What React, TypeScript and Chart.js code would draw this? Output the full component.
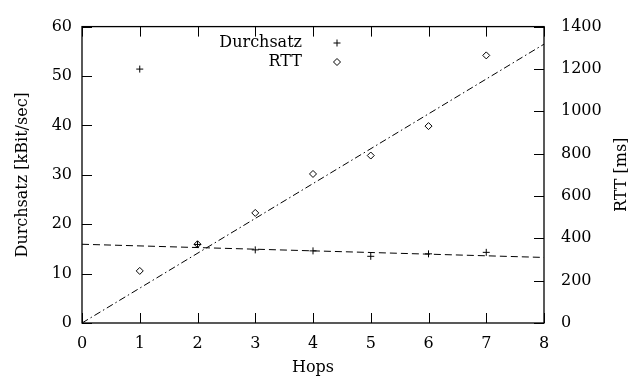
import React, { useEffect, useRef } from "react";
import { Chart, registerables } from "chart.js";

Chart.register(...registerables);

const hops = [1, 2, 3, 4, 5, 6, 7];
const durchsatz = [51.4, 15.9, 14.8, 14.6, 13.5, 14.0, 14.3];
const rtt = [246, 372, 520, 704, 791, 930, 1264];
const fitX = [0, 8];
const durchsatzFit = [15.94, 13.27];
const rttFit = [0, 1317];
const xTicks = [0, 1, 2, 3, 4, 5, 6, 7, 8];
const yTicks = [0, 10, 20, 30, 40, 50, 60];
const y2Ticks = [0, 200, 400, 600, 800, 1000, 1200, 1400];

const FONT = "'DejaVu Serif', serif";
const TL = 10;

const framePlugin = {
  id: "frame",
  afterDraw(chart: any) {
    const { ctx, chartArea } = chart;
    const { left, right, top, bottom } = chartArea;
    const { x, y, y2 } = chart.scales;
    ctx.save();
    ctx.strokeStyle = "#000";
    ctx.lineWidth = 1;
    const line = (x1: number, y1: number, x2: number, y2p: number) => {
      ctx.beginPath();
      ctx.moveTo(x1, y1);
      ctx.lineTo(x2, y2p);
      ctx.stroke();
    };
    xTicks.forEach((v) => {
      const px = Math.round(x.getPixelForValue(v)) + 0.5;
      line(px, bottom, px, bottom - TL);
      line(px, top, px, top + TL);
    });
    yTicks.forEach((v) => {
      const py = Math.round(y.getPixelForValue(v)) + 0.5;
      line(left, py, left + TL, py);
    });
    y2Ticks.forEach((v) => {
      const py = Math.round(y2.getPixelForValue(v)) + 0.5;
      line(right, py, right - TL, py);
    });
    ctx.lineWidth = 1.3;
    ctx.strokeRect(left, top, right - left, bottom - top);

    // legend
    ctx.fillStyle = "#000";
    ctx.font = `16px ${FONT}`;
    ctx.textAlign = "right";
    ctx.textBaseline = "middle";
    const lx = 302;
    const mx = 337;
    const rows = [
      { label: chart.data.datasets[2].label, y: 43, kind: "plus" },
      { label: chart.data.datasets[3].label, y: 62, kind: "diamond" },
    ];
    ctx.lineWidth = 1;
    rows.forEach((r) => {
      ctx.fillText(r.label, lx, r.y);
      const r0 = 3.5;
      if (r.kind === "plus") {
        line(mx - r0, r.y, mx + r0, r.y);
        line(mx, r.y - r0, mx, r.y + r0);
      } else {
        ctx.beginPath();
        ctx.moveTo(mx - r0, r.y);
        ctx.lineTo(mx, r.y - r0);
        ctx.lineTo(mx + r0, r.y);
        ctx.lineTo(mx, r.y + r0);
        ctx.closePath();
        ctx.stroke();
      }
    });

    // axis titles
    ctx.textAlign = "center";
    ctx.fillText("Hops", (left + right) / 2, 368);
    ctx.save();
    ctx.translate(23, (top + bottom) / 2);
    ctx.rotate(-Math.PI / 2);
    ctx.fillText("Durchsatz [kBit/sec]", 0, 0);
    ctx.restore();
    ctx.save();
    ctx.translate(622, (top + bottom) / 2);
    ctx.rotate(-Math.PI / 2);
    ctx.fillText("RTT [ms]", 0, 0);
    ctx.restore();
    ctx.restore();
  },
};

export default function App() {
  const ref = useRef<HTMLCanvasElement>(null);
  useEffect(() => {
    document.body.style.margin = "0";
    const chart = new Chart(ref.current!, {
      type: "scatter",
      data: {
        datasets: [
          {
            label: "Durchsatz Fit",
            type: "line",
            data: fitX.map((v, i) => ({ x: v, y: durchsatzFit[i] })),
            borderColor: "#000",
            borderWidth: 1,
            borderDash: [7, 4],
            pointRadius: 0,
            showLine: true,
            yAxisID: "y",
          } as any,
          {
            label: "RTT Fit",
            type: "line",
            data: fitX.map((v, i) => ({ x: v, y: rttFit[i] })),
            borderColor: "#000",
            borderWidth: 1,
            borderDash: [7, 3, 1.5, 3],
            pointRadius: 0,
            showLine: true,
            yAxisID: "y2",
          } as any,
          {
            label: "Durchsatz",
            data: hops.map((h, i) => ({ x: h, y: durchsatz[i] })),
            pointStyle: "cross",
            pointRadius: 3.5,
            borderColor: "#000",
            backgroundColor: "#000",
            borderWidth: 1,
            yAxisID: "y",
          },
          {
            label: "RTT",
            data: hops.map((h, i) => ({ x: h, y: rtt[i] })),
            pointStyle: "rectRot",
            pointRadius: 3.5,
            borderColor: "#000",
            backgroundColor: "rgba(0,0,0,0)",
            borderWidth: 1,
            yAxisID: "y2",
          },
        ],
      },
      options: {
        responsive: false,
        animation: false,
        layout: { padding: { top: 17, left: 0, right: 0, bottom: 0 } },
        plugins: { legend: { display: false }, tooltip: { enabled: false } },
        scales: {
          x: {
            type: "linear",
            min: 0,
            max: 8,
            afterFit: (s: any) => {
              s.height = 58;
            },
            afterBuildTicks: (s: any) => {
              s.ticks = xTicks.map((v) => ({ value: v }));
            },
            grid: { display: false, drawTicks: false },
            border: { display: false },
            ticks: {
              autoSkip: false,
              maxRotation: 0,
              padding: 11,
              color: "#000",
              font: { family: FONT, size: 16 },
              callback: (v: any) => String(v),
            },
          },
          y: {
            type: "linear",
            position: "left",
            min: 0,
            max: 60,
            afterFit: (s: any) => {
              s.width = 82;
            },
            afterBuildTicks: (s: any) => {
              s.ticks = yTicks.map((v) => ({ value: v }));
            },
            grid: { display: false, drawTicks: false },
            border: { display: false },
            ticks: {
              autoSkip: false,
              padding: 10,
              color: "#000",
              font: { family: FONT, size: 16 },
              callback: (v: any) => String(v),
            },
          },
          y2: {
            type: "linear",
            position: "right",
            min: 0,
            max: 1400,
            afterFit: (s: any) => {
              s.width = 96;
            },
            afterBuildTicks: (s: any) => {
              s.ticks = y2Ticks.map((v) => ({ value: v }));
            },
            grid: { display: false, drawTicks: false },
            border: { display: false },
            ticks: {
              autoSkip: false,
              padding: 17,
              color: "#000",
              font: { family: FONT, size: 16 },
              callback: (v: any) => String(v),
            },
          },
        },
      },
      plugins: [framePlugin],
    });
    return () => chart.destroy();
  }, []);
  return (
    <div style={{ position: "fixed", left: 0, top: 0, width: 640, height: 381, background: "#fff" }}>
      <canvas ref={ref} width={640} height={381} />
    </div>
  );
}
